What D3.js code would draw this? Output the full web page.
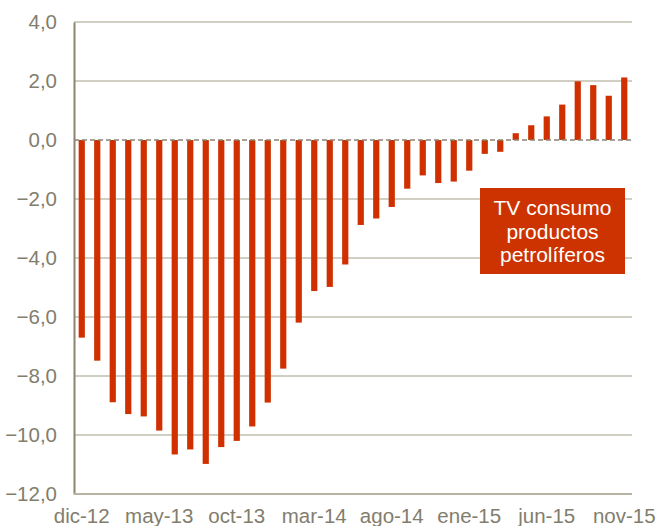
<!DOCTYPE html>
<html>
<head>
<meta charset="utf-8">
<script src="https://cdn.jsdelivr.net/npm/d3@7"></script>
<style>
  body { margin: 0; background: #fff; }
  svg text { font-family: "Liberation Sans", Arial, sans-serif; }
</style>
</head>
<body>
<svg id="chart"></svg>
<script>
const months = ["dic-12","ene-13","feb-13","mar-13","abr-13","may-13","jun-13","jul-13","ago-13","sep-13","oct-13","nov-13",
                "dic-13","ene-14","feb-14","mar-14","abr-14","may-14","jun-14","jul-14","ago-14","sep-14","oct-14","nov-14",
                "dic-14","ene-15","feb-15","mar-15","abr-15","may-15","jun-15","jul-15","ago-15","sep-15","oct-15","nov-15"];
const values = [-6.70,-7.48,-8.89,-9.29,-9.37,-9.85,-10.66,-10.49,-10.98,-10.41,-10.20,-9.71,
                -8.90,-7.75,-6.19,-5.12,-4.98,-4.22,-2.88,-2.66,-2.27,-1.65,-1.20,-1.46,
                -1.41,-1.04,-0.47,-0.40,0.23,0.50,0.80,1.20,1.99,1.86,1.50,2.12];
const xTickLabels = ["dic-12","may-13","oct-13","mar-14","ago-14","ene-15","jun-15","nov-15"];
const yTicks = [-12,-10,-8,-6,-4,-2,0,2,4];
const legendLines = ["TV consumo","productos","petrolíferos"];

const width = 658, height = 526;
const plotLeft = 74, plotRight = 632, plotTop = 22, plotBottom = 494;

const svg = d3.select("#chart").attr("width", width).attr("height", height);

const x = d3.scaleBand().domain(months).range([plotLeft, plotRight]).paddingInner(0.6).paddingOuter(0.3);
const y = d3.scaleLinear().domain([-12, 4]).range([plotBottom, plotTop]);

const textColor = "#827d6d";

// gridlines
svg.append("g")
   .selectAll("line")
   .data(yTicks.filter(d => d !== 0 && d !== -12))
   .enter().append("line")
   .attr("x1", plotLeft).attr("x2", plotRight)
   .attr("y1", d => y(d)).attr("y2", d => y(d))
   .attr("stroke", "#c2beb0").attr("stroke-width", 1.3);

// y axis
const yAxis = d3.axisLeft(y).tickValues(yTicks).tickSize(0).tickPadding(17)
                .tickFormat(d => d3.format(".1f")(d).replace(".", ","));
const gy = svg.append("g").attr("transform", `translate(${plotLeft},0)`).call(yAxis);
gy.select(".domain").attr("stroke", "#8a8470").attr("stroke-width", 2);
gy.selectAll(".tick text").attr("fill", textColor).attr("font-size", 20.5);

// bottom line
svg.append("line")
   .attr("x1", plotLeft).attr("x2", plotRight)
   .attr("y1", y(-12)).attr("y2", y(-12))
   .attr("stroke", "#b8b3a3").attr("stroke-width", 2);

// bars
svg.append("g")
   .selectAll("rect")
   .data(values)
   .enter().append("rect")
   .attr("x", (d, i) => x(months[i]))
   .attr("width", x.bandwidth())
   .attr("y", d => y(Math.max(0, d)))
   .attr("height", d => Math.abs(y(d) - y(0)))
   .attr("fill", "#d03000");

// zero line
svg.append("line")
   .attr("x1", plotLeft).attr("x2", plotRight)
   .attr("y1", y(0)).attr("y2", y(0))
   .attr("stroke", "#8a8470").attr("stroke-width", 1.5)
   .attr("stroke-dasharray", "5,3");

// x labels
svg.append("g")
   .selectAll("text")
   .data(xTickLabels)
   .enter().append("text")
   .attr("x", d => x(d) + x.bandwidth() / 2)
   .attr("y", 523)
   .attr("text-anchor", "middle")
   .attr("fill", textColor)
   .attr("font-size", 20.5)
   .text(d => d);

// legend box
const lg = svg.append("g");
lg.append("rect")
  .attr("x", 480).attr("y", 188).attr("width", 145).attr("height", 86)
  .attr("fill", "#cc3300");
lg.selectAll("text")
  .data(legendLines)
  .enter().append("text")
  .attr("x", 552.5)
  .attr("y", (d, i) => 215 + i * 23.5)
  .attr("text-anchor", "middle")
  .attr("fill", "#fff")
  .attr("font-size", 21)
  .text(d => d);
</script>
</body>
</html>
